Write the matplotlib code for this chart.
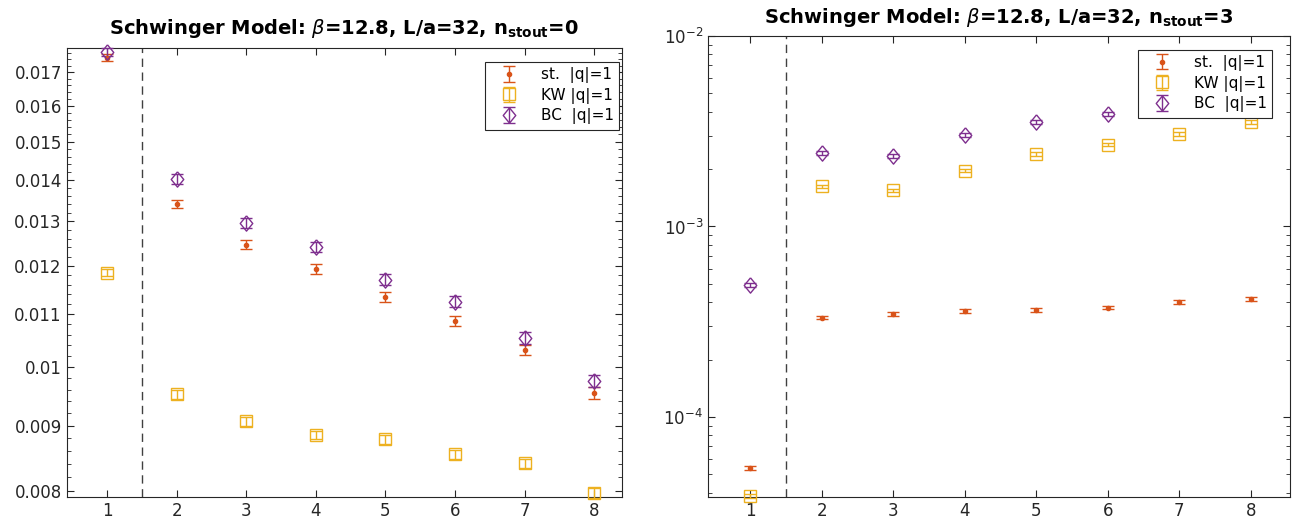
import numpy as np
import matplotlib.pyplot as plt
from matplotlib.ticker import FixedLocator, MultipleLocator, FormatStrFormatter, NullFormatter

plt.rcParams['font.family'] = 'DejaVu Sans'

x = [1, 2, 3, 4, 5, 6, 7, 8]
labels = ['st.  |q|=1', 'KW |q|=1', 'BC  |q|=1']

# n_stout = 0
st0 = [0.01745, 0.01341, 0.01246, 0.01193, 0.01134, 0.01086, 0.01031, 0.00954]
st0_err = [0.00012, 0.00010, 0.00010, 0.00010, 0.00010, 0.00010, 0.00010, 0.00010]
kw0 = [0.01185, 0.00952, 0.00907, 0.00885, 0.00878, 0.00855, 0.00841, 0.00797]
kw0_err = [0.00008, 0.00008, 0.00007, 0.00007, 0.00007, 0.00007, 0.00007, 0.00007]
bc0 = [0.01763, 0.01403, 0.01296, 0.01241, 0.01170, 0.01125, 0.01054, 0.00975]
bc0_err = [0.00013, 0.00013, 0.00012, 0.00012, 0.00012, 0.00011, 0.00011, 0.00011]

# n_stout = 3
st3 = [5.38e-5, 3.31e-4, 3.47e-4, 3.60e-4, 3.64e-4, 3.74e-4, 4.02e-4, 4.16e-4]
st3_err = [0.12e-5, 0.06e-4, 0.07e-4, 0.07e-4, 0.07e-4, 0.07e-4, 0.08e-4, 0.08e-4]
kw3 = [3.85e-5, 1.63e-3, 1.55e-3, 1.96e-3, 2.40e-3, 2.68e-3, 3.06e-3, 3.54e-3]
kw3_err = [0.08e-5, 0.03e-3, 0.03e-3, 0.04e-3, 0.05e-3, 0.05e-3, 0.06e-3, 0.07e-3]
bc3 = [4.93e-4, 2.43e-3, 2.35e-3, 3.02e-3, 3.54e-3, 3.90e-3, 4.40e-3, 5.00e-3]
bc3_err = [0.10e-4, 0.05e-3, 0.05e-3, 0.06e-3, 0.07e-3, 0.08e-3, 0.09e-3, 0.10e-3]

c_st = '#D95319'
c_kw = '#EDB120'
c_bc = '#7E2F8E'

# slightly tall diamond like matlab's 'd'
diamond = [(0, 1), (0.82, 0), (0, -1), (-0.82, 0), (0, 1)]

fig = plt.figure(figsize=(13.02, 5.29), dpi=100)
ax1 = fig.add_axes([0.0512, 0.0605, 0.4265, 0.8488])
ax2 = fig.add_axes([0.5438, 0.0605, 0.4470, 0.8715])


def draw(ax, st, st_err, kw, kw_err, bc, bc_err, anchor):
    ax.errorbar(x, st, yerr=st_err, fmt='.', color=c_st, ms=6, capsize=4,
                elinewidth=1, capthick=1, label=labels[0], clip_on=False, zorder=3)
    ax.errorbar(x, kw, yerr=kw_err, fmt='s', color=c_kw, mfc='none', ms=8, mew=1,
                capsize=4, elinewidth=1, capthick=1, label=labels[1], clip_on=False, zorder=3)
    ax.errorbar(x, bc, yerr=bc_err, ls='none', marker=diamond, color=c_bc, mfc='none',
                ms=11, mew=1, capsize=4, elinewidth=1, capthick=1, label=labels[2],
                clip_on=False, zorder=3)
    ax.axvline(1.5, color='#404040', ls=(0, (6, 4)), lw=1)
    ax.set_yscale('log')
    ax.set_xticks(x)
    ax.tick_params(which='both', direction='in', top=True, right=True,
                   colors='#262626', labelsize=12)
    ax.tick_params(which='major', length=5)
    ax.tick_params(which='minor', length=3)
    for s in ax.spines.values():
        s.set_color('#262626')
        s.set_linewidth(0.8)
    leg = ax.legend(loc='upper right', fontsize=11, fancybox=False, framealpha=1,
                    edgecolor='#262626', borderaxespad=0, handlelength=2.5,
                    labelspacing=0.3, borderpad=0.35, bbox_to_anchor=anchor,
                    bbox_transform=ax.transAxes)
    leg.get_frame().set_linewidth(0.8)


draw(ax1, st0, st0_err, kw0, kw0_err, bc0, bc0_err, (0.9946, 0.969))
ax1.set_xlim(0.42, 8.4)
ax1.set_ylim(0.007914, 0.017756)
ax1.yaxis.set_major_locator(FixedLocator([0.008, 0.009, 0.010, 0.011, 0.012, 0.013,
                                          0.014, 0.015, 0.016, 0.017]))
ax1.yaxis.set_major_formatter(FormatStrFormatter('%g'))
ax1.yaxis.set_minor_locator(MultipleLocator(0.0002))
ax1.yaxis.set_minor_formatter(NullFormatter())
ax1.set_title(r'Schwinger Model: $\beta$=12.8, L/a=32, n$_{\mathbf{stout}}$=0',
              fontsize=14, fontweight='bold', pad=10)

draw(ax2, st3, st3_err, kw3, kw3_err, bc3, bc3_err, (0.969, 0.970))
ax2.set_xlim(0.41, 8.55)
ax2.set_ylim(3.80e-5, 1e-2)
ax2.set_title(r'Schwinger Model: $\beta$=12.8, L/a=32, n$_{\mathbf{stout}}$=3',
              fontsize=14, fontweight='bold', pad=9)

fig.savefig('out.png', dpi=100)
